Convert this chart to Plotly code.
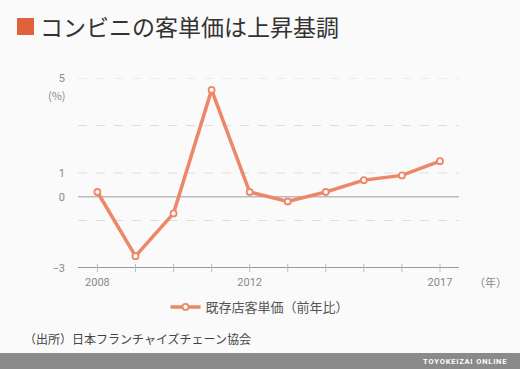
import plotly.graph_objects as go

years = [2008, 2009, 2010, 2011, 2012, 2013, 2014, 2015, 2016, 2017]
values = [0.2, -2.5, -0.7, 4.5, 0.2, -0.2, 0.2, 0.7, 0.9, 1.5]
series_name = "既存店客単価（前年比）"
title_text = "コンビニの客単価は上昇基調"
source_text = "（出所）日本フランチャイズチェーン協会"
y_tick_vals = [5, 1, 0, -3]
x_tick_vals = [2008, 2012, 2017]

LINE = "#ec8767"
FONT = "Noto Sans CJK JP, Roboto, sans-serif"
NUMFONT = "Roboto, Noto Sans CJK JP, sans-serif"
PW = 381.0  # plot width px
PH = 190.0  # plot height px
L, T = 78.0, 78.0

def px(x):
    return (x - L) / PW

def py(y):
    return 1 - (y - T) / PH

fig = go.Figure()
fig.add_trace(go.Scatter(
    x=years, y=values, mode="lines+markers", name=series_name,
    line=dict(color=LINE, width=3.5),
    marker=dict(size=6, color="white", line=dict(color=LINE, width=1.8)),
    cliponaxis=False, hoverinfo="skip",
))

for gv in [5, 3, 1, -1]:
    fig.add_shape(type="line", xref="paper", yref="y", x0=0, x1=1, y0=gv, y1=gv,
                  line=dict(color="#dddddd", width=1, dash="dash"), layer="below")
fig.add_shape(type="line", xref="paper", yref="y", x0=0, x1=1, y0=0, y1=0,
              line=dict(color="#bbbbbb", width=1.5), layer="below")
fig.add_shape(type="line", xref="paper", yref="y", x0=0, x1=1, y0=-3, y1=-3,
              line=dict(color="#999999", width=2), layer="below")

for yr in years:
    fig.add_shape(type="line", xref="x", yref="paper", x0=yr, x1=yr,
                  y0=py(272), y1=py(264), line=dict(color="#bbbbbb", width=1))

# title square
fig.add_shape(type="rect", xref="paper", yref="paper",
              x0=px(17), x1=px(34), y0=py(35), y1=py(18),
              fillcolor="#e0613a", line=dict(width=0))
# bottom band
fig.add_shape(type="rect", xref="paper", yref="paper",
              x0=px(0), x1=px(520), y0=py(370), y1=py(353),
              fillcolor="#8a8a8a", line=dict(width=0))

brand = "\u200a".join("TOYOKEIZAI").replace("", "") + "\u2002" + "\u200a".join("ONLINE")

fig.update_layout(
    width=520, height=369,
    margin=dict(l=78, r=61, t=78, b=101, autoexpand=False),
    paper_bgcolor="#fafafa", plot_bgcolor="#fafafa",
    font=dict(family=FONT, color="#888888", size=11),
    showlegend=True,
    legend=dict(orientation="h", x=0.5, xanchor="center", xref="container",
                y=1 - 307/369, yref="container", yanchor="middle",
                font=dict(size=13, color="#555555"), bgcolor="rgba(0,0,0,0)"),
    xaxis=dict(range=[2007.49, 2017.5], tickvals=x_tick_vals,
               ticktext=[str(v) for v in x_tick_vals], showgrid=False,
               zeroline=False, showline=False, ticks="",
               tickfont=dict(size=11, color="#888888", family=NUMFONT), ticklabelstandoff=6),
    yaxis=dict(range=[-3, 5], tickvals=y_tick_vals, showgrid=False,
               zeroline=False, showline=False, ticklabelstandoff=12,
               tickfont=dict(size=11, color="#888888", family=NUMFONT)),
    annotations=[
        dict(text=title_text, xref="paper", yref="paper",
             x=px(38), y=py(26), xanchor="left", yanchor="middle",
             showarrow=False, font=dict(size=23, color="#333333", family=FONT)),
        dict(text="(%)", xref="paper", yref="paper", x=px(57), y=py(95),
             xanchor="center", yanchor="middle", showarrow=False,
             font=dict(size=11, color="#888888")),
        dict(text="（年）", xref="paper", yref="paper", x=px(472), y=py(282),
             xanchor="left", yanchor="middle", showarrow=False,
             font=dict(size=11, color="#888888")),
        dict(text=source_text, xref="paper", yref="paper", x=px(22),
             y=py(338), xanchor="left", yanchor="middle", showarrow=False,
             font=dict(size=12, color="#444444")),
        dict(text=brand, xref="paper", yref="paper", x=px(509),
             y=py(361), xanchor="right", yanchor="middle", showarrow=False,
             font=dict(size=7.5, color="white", family="Roboto, sans-serif", weight="bold")),
    ],
)

fig.write_html("out.html", post_script="document.body.style.margin='0';",
               config={"displayModeBar": False})
